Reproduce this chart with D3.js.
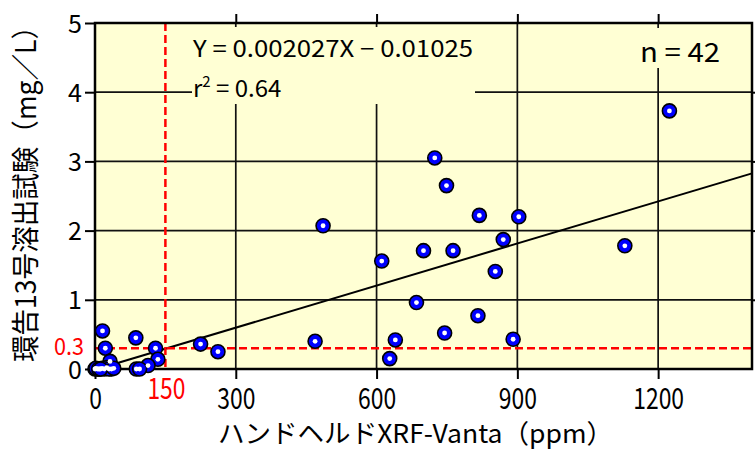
<!DOCTYPE html>
<html><head><meta charset="utf-8">
<script src="https://cdn.jsdelivr.net/npm/d3@7"></script>
<style>
html,body{margin:0;padding:0;background:#fff;}
svg{display:block;}
text{font-family:"Noto Sans CJK JP","Noto Sans",sans-serif;}
</style></head>
<body><svg id="c" width="755" height="450"></svg>
<script>
// ---- data ----
const xValues = [1224, 724, 749, 819, 903, 486, 870, 1129, 700, 763, 611, 853, 685, 816, 745, 891, 640, 469, 225, 262, 628,
  16, 87, 22, 129, 32, 134, 113, 88, 35, 0,
  5, 10, 15, 20, 25, 30, 2, 8, 12, 40, 95];
const yValues = [3.73, 3.05, 2.65, 2.22, 2.20, 2.07, 1.87, 1.78, 1.71, 1.71, 1.56, 1.41, 0.96, 0.77, 0.52, 0.43, 0.42, 0.40, 0.36, 0.25, 0.15,
  0.55, 0.45, 0.30, 0.30, 0.11, 0.14, 0.05, 0.00, 0.00, 0.00,
  0.00, 0.00, 0.01, 0.00, 0.02, 0.00, 0.01, 0.00, 0.00, 0.01, 0.00];
const xTicks = [0, 300, 600, 900, 1200];
const yTicks = [0, 1, 2, 3, 4, 5];
const slope = 0.002027, intercept = -0.01025;
const thresholdX = 150, thresholdY = 0.3;
const eqText = "Y = 0.002027X \u2212 0.01025";
const r2Text = "0.64";
const nText = "n = 42";
const xTitle = "ハンドヘルドXRF-Vanta（ppm）";
const yTitle = "環告13号溶出試験（mg／L）";

// ---- layout ----
const L = 95, R = 752, T = 23, B = 369;
const svg = d3.select("#c");
const x = d3.scaleLinear().domain([0, 1400]).range([L, R]);
const y = d3.scaleLinear().domain([0, 5]).range([B, T]);
const bg = "#ffffd4";

svg.append("rect").attr("x", L).attr("y", T).attr("width", R - L).attr("height", B - T).attr("fill", bg);

// gridlines
const g = svg.append("g");
g.selectAll(".vx").data(xTicks.filter(d => d > 0)).join("line")
  .attr("x1", d => x(d)).attr("x2", d => x(d)).attr("y1", T).attr("y2", B)
  .attr("stroke", "#111").attr("stroke-width", 1.7);
g.selectAll(".hy").data(yTicks.filter(d => d > 0 && d < 5)).join("line")
  .attr("x1", L).attr("x2", R).attr("y1", d => y(d)).attr("y2", d => y(d))
  .attr("stroke", "#111").attr("stroke-width", 1.7);

// text boxes covering gridlines
svg.append("rect").attr("x", 192).attr("y", 27).attr("width", 283).attr("height", 77).attr("fill", bg);
svg.append("rect").attr("x", 636).attr("y", 28).attr("width", 88).attr("height", 40).attr("fill", bg);

// regression line
svg.append("line")
  .attr("x1", x(0)).attr("y1", y(slope * 0 + intercept))
  .attr("x2", x(1400)).attr("y2", y(slope * 1400 + intercept))
  .attr("stroke", "#000").attr("stroke-width", 2);

// thresholds
svg.append("line").attr("x1", x(thresholdX)).attr("x2", x(thresholdX)).attr("y1", T).attr("y2", B)
  .attr("stroke", "#ff0000").attr("stroke-width", 2.5).attr("stroke-dasharray", "8,4");
svg.append("line").attr("x1", L).attr("x2", R).attr("y1", y(thresholdY)).attr("y2", y(thresholdY))
  .attr("stroke", "#ff0000").attr("stroke-width", 2.5).attr("stroke-dasharray", "8,4");

// frame
svg.append("rect").attr("x", L).attr("y", T).attr("width", R - L).attr("height", B - T)
  .attr("fill", "none").attr("stroke", "#000").attr("stroke-width", 2.5);

// axes
const fmt = d3.format("d");
const ax = svg.append("g").attr("transform", `translate(0,${B})`)
  .call(d3.axisBottom(x).tickValues(xTicks).tickFormat(fmt).tickSizeInner(10).tickSizeOuter(0).tickPadding(9));
ax.select(".domain").remove();
ax.selectAll("line").attr("stroke", "#000").attr("stroke-width", 2);
ax.selectAll("text").attr("font-size", 29).attr("fill", "#000")
  .attr("textLength", d => fmt(d).length * 12.7).attr("lengthAdjust", "spacingAndGlyphs");

const ay = svg.append("g").attr("transform", `translate(${L},0)`)
  .call(d3.axisLeft(y).tickValues(yTicks).tickFormat(fmt).tickSizeInner(10).tickSizeOuter(0).tickPadding(3));
ay.select(".domain").remove();
ay.selectAll("line").attr("stroke", "#000").attr("stroke-width", 2);
ay.selectAll("text").attr("font-size", 25).attr("fill", "#000").attr("dy", "0.36em");

const at = svg.append("g").attr("transform", `translate(0,${T})`)
  .call(d3.axisTop(x).tickValues(xTicks.filter(d => d > 0)).tickSizeInner(9).tickSizeOuter(0).tickFormat(""));
at.select(".domain").remove();
at.selectAll("line").attr("stroke", "#000").attr("stroke-width", 2);
const ar = svg.append("g").attr("transform", `translate(${R},0)`)
  .call(d3.axisRight(y).tickValues(yTicks.filter(d => d > 0 && d < 5)).tickSizeInner(9).tickSizeOuter(0).tickFormat(""));
ar.select(".domain").remove();
ar.selectAll("line").attr("stroke", "#000").attr("stroke-width", 2);

// red threshold labels
svg.append("text").attr("x", 84).attr("y", y(thresholdY) - 2).attr("dy", "0.36em").attr("text-anchor", "end")
  .attr("font-size", 23).attr("fill", "#ff0000").attr("textLength", 30).attr("lengthAdjust", "spacingAndGlyphs")
  .text(String(thresholdY));
svg.append("text").attr("x", x(thresholdX) + 1).attr("y", 399).attr("text-anchor", "middle")
  .attr("font-size", 29).attr("fill", "#ff0000").attr("textLength", 38).attr("lengthAdjust", "spacingAndGlyphs")
  .text(String(thresholdX));

// points
const pts = svg.append("g");
const data = xValues.map((v, i) => [v, yValues[i]]);
pts.selectAll("circle.o").data(data).join("circle").attr("class", "o")
  .attr("cx", d => x(d[0])).attr("cy", d => y(d[1])).attr("r", 7)
  .attr("fill", "#0000ff").attr("stroke", "#000").attr("stroke-width", 1.6);
pts.selectAll("circle.i").data(data).join("circle").attr("class", "i")
  .attr("cx", d => x(d[0])).attr("cy", d => y(d[1])).attr("r", 2.4).attr("fill", "#fff");

// annotations
svg.append("text").attr("x", 193).attr("y", 57).attr("font-size", 23).attr("fill", "#000")
  .attr("textLength", 280).attr("lengthAdjust", "spacingAndGlyphs").text(eqText);
const r2 = svg.append("text").attr("x", 193).attr("y", 97).attr("font-size", 24).attr("fill", "#000");
r2.append("tspan").text("r");
r2.append("tspan").attr("font-size", 15).attr("dy", -10).text("2");
r2.append("tspan").attr("dy", 10).text(" = " + r2Text);
svg.append("text").attr("x", 640).attr("y", 62).attr("font-size", 27).attr("fill", "#000")
  .attr("textLength", 80).attr("lengthAdjust", "spacingAndGlyphs").text(nText);

// titles
svg.append("text").attr("x", 218).attr("y", 443).attr("font-size", 26).attr("fill", "#000")
  .attr("textLength", 395).attr("lengthAdjust", "spacingAndGlyphs").text(xTitle);
svg.append("text").attr("transform", "translate(36,362) rotate(-90)").attr("font-size", 28).attr("fill", "#000")
  .attr("textLength", 349).attr("lengthAdjust", "spacingAndGlyphs").text(yTitle);
</script></body></html>
